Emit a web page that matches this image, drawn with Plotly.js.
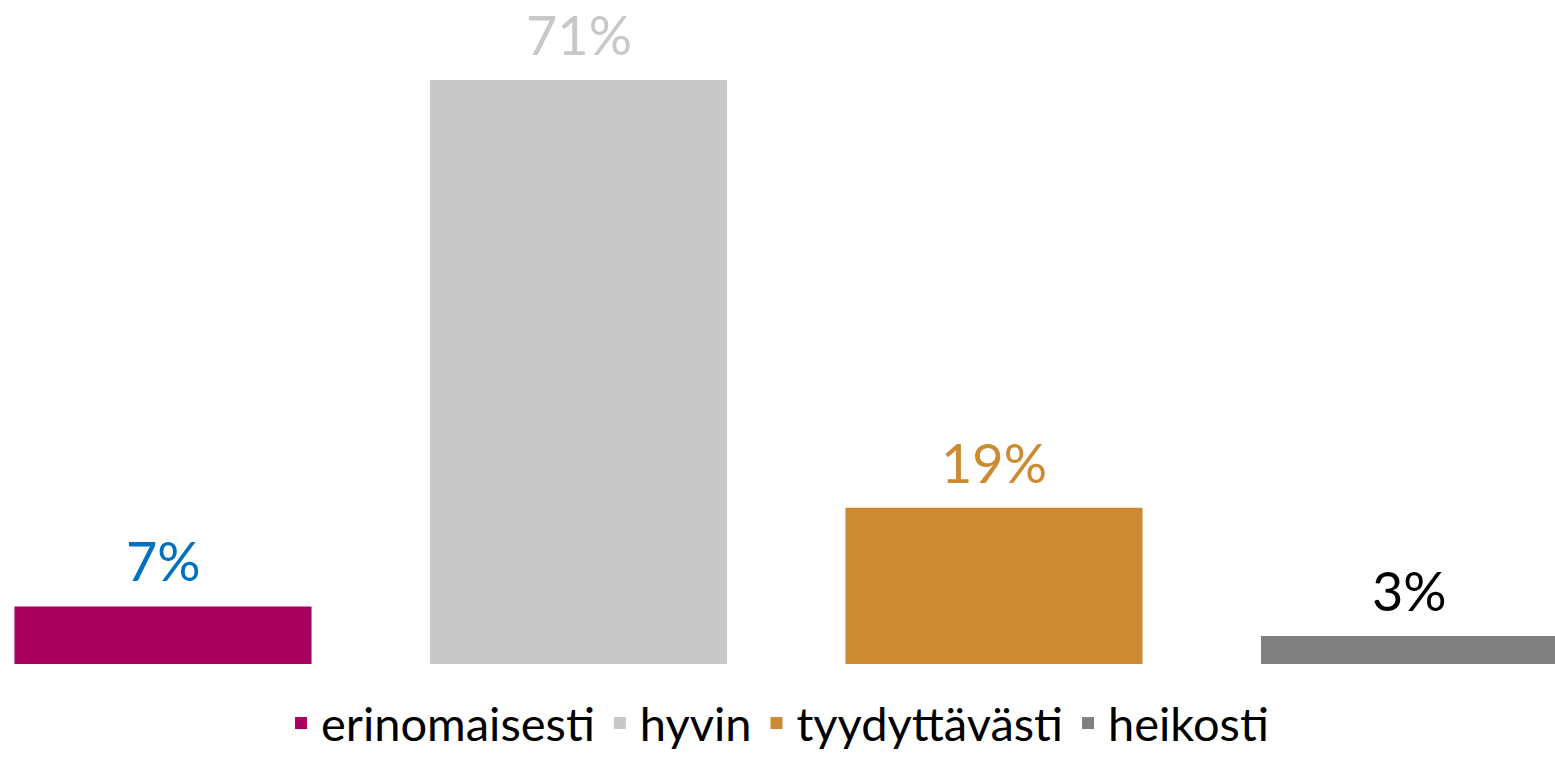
<!DOCTYPE html>
<html>
<head>
<meta charset="utf-8">
<script src="https://cdn.plot.ly/plotly-3.0.1.min.js"></script>
<style>
html,body{margin:0;padding:0;background:#fff;}
#chart{width:1555px;height:761px;}
</style>
</head>
<body>
<div id="chart"></div>
<script>
const categories = ["erinomaisesti", "hyvin", "tyydyttävästi", "heikosti"];
const values = [7, 71, 19, 3.4];
const valueLabels = ["7%", "71%", "19%", "3%"];
const barColors = ["#A8005C", "#C8C8C8", "#CC8A32", "#808080"];
const labelColors = ["#0070C0", "#C8C8C8", "#CC8A32", "#000000"];

const FONT = "Lato, 'Open Sans', sans-serif";

const traces = categories.map((c, i) => ({
  type: "bar",
  name: c,
  x: [i],
  y: [values[i]],
  marker: {color: barColors[i]},
  hoverinfo: "name+y"
}));

const annotations = categories.map((c, i) => ({
  x: i,
  y: values[i],
  xref: "x",
  yref: "y",
  text: valueLabels[i],
  showarrow: false,
  xanchor: "center",
  yanchor: "bottom",
  yshift: 12,
  borderpad: 0,
  font: {family: FONT, size: 54, color: labelColors[i]}
}));

const layout = {
  width: 1555,
  height: 761,
  margin: {l: 0, r: 0, t: 0, b: 97, autoexpand: false},
  paper_bgcolor: "#fff",
  plot_bgcolor: "#fff",
  barmode: "overlay",
  bargap: 0.285,
  font: {family: FONT, color: "#000"},
  xaxis: {range: [-0.3923, 3.3502], showticklabels: false, showgrid: false, zeroline: false, showline: false, ticks: "", fixedrange: true},
  yaxis: {range: [0, 80.73], showticklabels: false, showgrid: false, zeroline: false, showline: false, ticks: "", fixedrange: true},
  annotations: annotations,
  showlegend: true,
  legend: {
    orientation: "h",
    x: 0.5, xanchor: "center",
    yref: "container",
    y: 0, yanchor: "bottom",
    font: {family: FONT, size: 47, color: "#000"},
    traceorder: "normal"
  }
};

Plotly.newPlot("chart", traces, layout, {displayModeBar: false, staticPlot: true});
</script>
</body>
</html>
